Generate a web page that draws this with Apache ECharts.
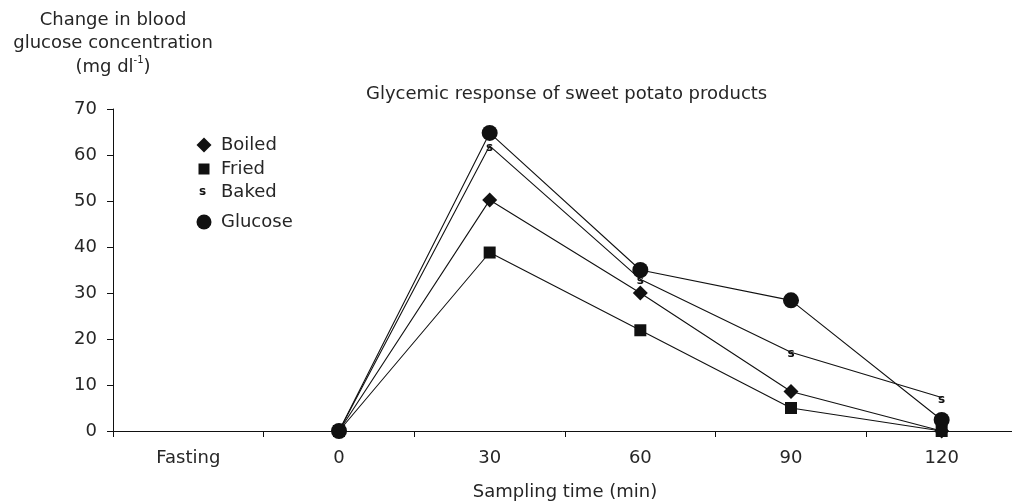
<!DOCTYPE html>
<html>
<head>
<meta charset="utf-8">
<script src="https://cdn.jsdelivr.net/npm/echarts@6/dist/echarts.min.js"></script>
<style>html,body{margin:0;padding:0;background:#fff;}#c{width:1012px;height:503px;}</style>
</head>
<body>
<div id="c"></div>
<script>
var categories = ['Fasting', '0', '30', '60', '90', '120'];
var boiled  = [null, 0, 50.2, 30.0, 8.6, 0];
var fried   = [null, 0, 38.8, 21.9, 5.0, 0];
var baked   = [null, 0, 62.0, 33.0, 17.1, 7.3];
var glucose = [null, 0, 64.8, 35.0, 28.4, 2.4];
var yTicks = {min: 0, max: 70, interval: 10};

var FONT = "'DejaVu Sans', sans-serif";
var FS = 18;
var TXT = '#262626';
var chart = echarts.init(document.getElementById('c'));

function legendItem(name, icon, w, top) {
  return {
    orient: 'vertical', left: 199 - w / 2, top: top,
    itemWidth: w, itemHeight: w, selectedMode: false,
    data: [{name: name, icon: icon}],
    textStyle: {fontFamily: FONT, fontSize: FS, color: TXT, padding: [0, 0, 0, 216 - (199 + w / 2 + 5)]}
  };
}

var lineStyle = {color: '#111', width: 1.1};
function series(name, data, symbol, size) {
  return {
    name: name, type: 'line', data: data, symbol: symbol, symbolSize: size,
    connectNulls: false, color: '#111', lineStyle: lineStyle,
    itemStyle: {color: '#111'}, animation: false
  };
}

var bakedSeries = series('Baked', baked, 'circle', 0.1);
bakedSeries.label = {show: true, position: 'inside', formatter: 's', fontFamily: FONT, fontSize: 12, fontWeight: 'bold', color: '#111', offset: [0, 2]};

chart.setOption({
  backgroundColor: '#fff',
  animation: false,
  title: {
    text: 'Glycemic response of sweet potato products',
    left: 361, top: 80,
    textStyle: {fontFamily: FONT, fontSize: FS, fontWeight: 'normal', color: TXT}
  },
  legend: [
    legendItem('Boiled', 'diamond', 15, 131),
    legendItem('Fried', 'rect', 11, 155),
    {
      orient: 'vertical', left: 188, top: 178, itemWidth: 1, itemHeight: 1, selectedMode: false,
      data: [{name: 'Baked', icon: 'none'}],
      formatter: function (n) { return '{s|s}{t|' + n + '}'; },
      textStyle: {fontFamily: FONT, fontSize: FS, color: TXT,
        rich: {s: {fontFamily: FONT, fontSize: 12, fontWeight: 'bold', color: '#111', width: 22},
               t: {fontFamily: FONT, fontSize: FS, color: TXT}}}
    },
    legendItem('Glucose', 'circle', 15, 208)
  ],
  grid: {left: 113, top: 109, width: 904, bottom: 72, containLabel: false, outerBoundsMode: 'none'},
  xAxis: {
    type: 'category', data: categories, boundaryGap: true,
    name: 'Sampling time (min)', nameLocation: 'middle', nameGap: 52,
    nameTextStyle: {fontFamily: FONT, fontSize: FS, color: TXT},
    axisLine: {lineStyle: {color: '#111', width: 1}},
    axisTick: {show: true, length: 6, lineStyle: {color: '#111'}},
    axisLabel: {fontFamily: FONT, fontSize: FS, color: TXT, margin: 18}
  },
  yAxis: {
    type: 'value', min: yTicks.min, max: yTicks.max, interval: yTicks.interval,
    name: 'Change in blood\nglucose concentration\n{t|(mg dl}{sup|-1}{t|)}',
    nameLocation: 'end', nameGap: 30,
    nameTextStyle: {fontFamily: FONT, fontSize: FS, color: TXT, lineHeight: 23.5, align: 'center',
      rich: {t: {fontFamily: FONT, fontSize: FS, color: TXT, lineHeight: 23.5},
             sup: {fontFamily: FONT, fontSize: 10, color: TXT, verticalAlign: 'top', lineHeight: 23.5, padding: [0, 0, 6, 0]}}},
    axisLine: {show: true, lineStyle: {color: '#111', width: 1}},
    axisTick: {show: true, length: 6, lineStyle: {color: '#111'}},
    splitLine: {show: false},
    axisLabel: {fontFamily: FONT, fontSize: FS, color: TXT, margin: 16}
  },
  series: [
    series('Fried', fried, 'rect', 12),
    bakedSeries,
    series('Glucose', glucose, 'circle', 16),
    series('Boiled', boiled, 'diamond', 15)
  ]
});
</script>
</body>
</html>
